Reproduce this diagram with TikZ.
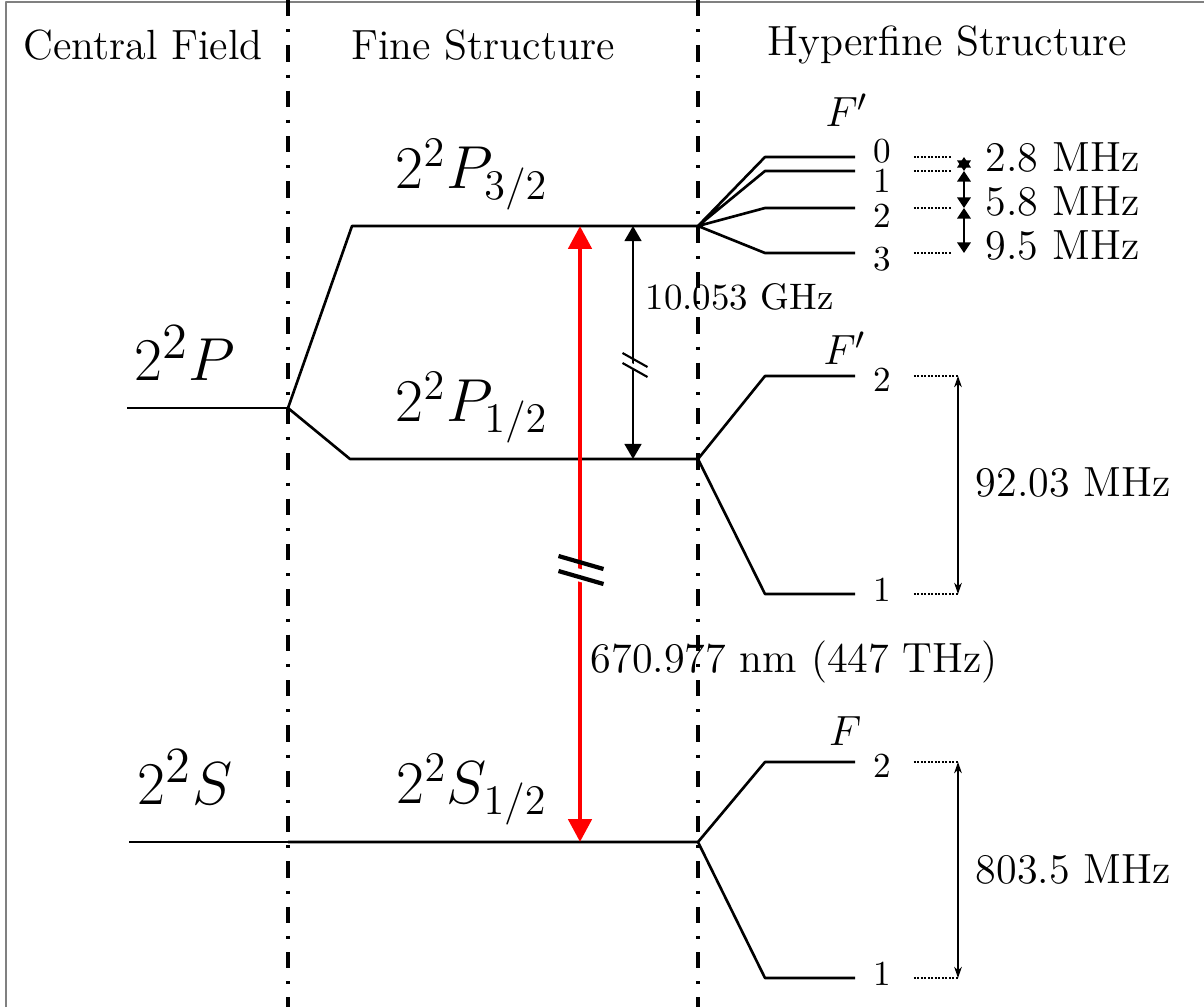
\documentclass[tikz,border=0pt]{standalone}
\usepackage{amsmath,amssymb}
\usepackage{tikz}
\usetikzlibrary{arrows.meta}
\tikzset{
  every picture/.style={line join=round, >=Stealth},
  frameline/.style={line width=0.6pt, gray},
  divline/.style={line width=1.2pt, dash pattern=on 4.6pt off 3.7pt on 0.9pt off 3.7pt},
  lvline/.style={line width=0.75pt},
  dotline/.style={line width=0.5pt, dash pattern=on 0.5pt off 0.5pt},
  hdr/.style={font=\fontsize{12}{14}\selectfont},
  cflabel/.style={font=\fontsize{19}{23}\selectfont},
  lvlabel/.style={font=\fontsize{17.5}{21}\selectfont},
  fnum/.style={font=\fontsize{10}{12}\selectfont},
  flabel/.style={font=\fontsize{13}{15}\selectfont},
  freq/.style={font=\fontsize{12}{14}\selectfont, anchor=west, inner sep=0pt},
  gaparrow/.style={<->, line width=0.6pt, >={Stealth[inset=0pt,length=4.3pt,width=4.8pt]}},
  hfarrow/.style={<->, line width=0.6pt, >={Stealth[inset=0pt,length=3pt,width=3.8pt]}},
  smarrow/.style={<->, line width=0.5pt, >={Stealth[length=3.2pt,width=2.2pt]}},
  redarrow/.style={<->, red, line width=1.4pt, >={Stealth[inset=0pt,length=6.5pt,width=6.5pt]}},
}

\begin{document}
\begin{tikzpicture}
\useasboundingbox (0,0) rectangle (12.04,-10.07);
% frame and dividers
\draw[frameline] (0.06,-10.07)--(0.06,-0.02)--(12.04,-0.02);
\draw[divline] (2.88,0)--(2.88,-10.07);
\draw[divline] (6.98,0)--(6.98,-10.07);
\node[hdr] (hcf) at (1.43,-0.45) {Central Field};
\node[hdr] (hfs) at (4.83,-0.45) {Fine Structure};
\node[hdr] (hhf) at (9.47,-0.45) {Hyperfine Structure};

% central field
\coordinate (cP) at (1.27,-4.08);
\coordinate (sP) at (2.88,-4.08);
\coordinate (cS) at (1.29,-8.42);
\coordinate (sS) at (2.88,-8.42);
\node[cflabel] (lP) at (1.85,-3.53) {$2^2P$};
\node[cflabel] (lS) at (1.85,-7.77) {$2^2S$};
\draw[lvline] (cP)--(sP) (cS)--(sS);

% fine structure
\coordinate (p32a) at (3.52,-2.26);
\coordinate (p32) at (6.98,-2.26);
\coordinate (p12a) at (3.50,-4.59);
\coordinate (p12) at (6.98,-4.59);
\coordinate (s12) at (6.98,-8.42);
\draw[lvline] (sP)--(p32a)--(p32)
(sP)--(p12a)--(p12)
(sS)--(s12);
\node[lvlabel] (lP32) at (4.72,-1.75) {$2^2P_{3/2}$};
\node[lvlabel] (lP12) at (4.72,-4.08) {$2^2P_{1/2}$};
\node[lvlabel] (lS12) at (4.72,-7.90) {$2^2S_{1/2}$};

% D line
\coordinate (ru) at (5.80,-2.26);
\coordinate (rd) at (5.80,-8.42);
\draw[redarrow] (ru)--(rd);
\coordinate (rb) at (5.805,-5.69);
\fill[white] ([shift={(-0.22,0.06)}]rb)--([shift={(0.22,-0.06)}]rb)--([shift={(0.22,-0.19)}]rb)--([shift={(-0.22,-0.07)}]rb)--cycle;
\draw[line width=1.2pt] ([shift={(-0.22,0.13)}]rb)--++(0.45,-0.13)
([shift={(-0.22,-0.02)}]rb)--++(0.45,-0.13);
\node[freq] (dl) at (5.90,-6.62) {670.977 nm (447 THz)};

% fine structure splitting
\coordinate (fu) at (6.33,-2.26);
\coordinate (fd) at (6.33,-4.59);
\draw[gaparrow] (fu)--(fd);
\coordinate (fb) at (6.345,-3.65);
\fill[white] ([shift={(-0.12,0.07)}]fb)--([shift={(0.12,-0.06)}]fb)--([shift={(0.12,-0.12)}]fb)--([shift={(-0.12,0.01)}]fb)--cycle;
\draw[line width=0.6pt] ([shift={(-0.12,0.12)}]fb)--++(0.25,-0.14)
([shift={(-0.12,0.02)}]fb)--++(0.25,-0.14);
\node[freq, font=\fontsize{10.5}{12}\selectfont] (fs) at (6.45,-2.97) {10.053 GHz};

% hyperfine 2P3/2
\coordinate (a0) at (7.65,-1.57); \coordinate (b0) at (8.55,-1.57);
\coordinate (a1) at (7.65,-1.71); \coordinate (b1) at (8.55,-1.71);
\coordinate (a2) at (7.65,-2.08); \coordinate (b2) at (8.55,-2.08);
\coordinate (a3) at (7.65,-2.53); \coordinate (b3) at (8.55,-2.53);
\draw[lvline] (p32)--(a0)--(b0) (p32)--(a1)--(b1) (p32)--(a2)--(b2) (p32)--(a3)--(b3);
\node[flabel] (Fa) at (8.47,-1.10) {$F'$};
\node[fnum] (n0) at (8.82,-1.51) {0};
\node[fnum] (n1) at (8.82,-1.81) {1};
\node[fnum] (n2) at (8.82,-2.16) {2};
\node[fnum] (n3) at (8.82,-2.59) {3};
\coordinate (m0) at (9.64,-1.57);
\coordinate (m1) at (9.64,-1.71);
\coordinate (m2) at (9.64,-2.08);
\coordinate (m3) at (9.64,-2.53);
\foreach \i in {0,1,2,3}
  \draw[dotline, shorten <=3pt, shorten >=0.12cm] (n\i.east |- m\i)--(m\i);
\draw[hfarrow] (m0)--(m1);
\draw[hfarrow] (m1)--(m2);
\draw[hfarrow] (m2)--(m3);
\node[freq] (f28) at (9.85,-1.58) {2.8 MHz};
\node[freq] (f58) at (9.85,-2.02) {5.8 MHz};
\node[freq] (f95) at (9.85,-2.46) {9.5 MHz};

% hyperfine 2P1/2
\coordinate (c2) at (7.65,-3.76); \coordinate (d2) at (8.55,-3.76);
\coordinate (c1) at (7.65,-5.94); \coordinate (d1) at (8.55,-5.94);
\draw[lvline] (p12)--(c2)--(d2) (p12)--(c1)--(d1);
\node[flabel] (Fb) at (8.45,-3.48) {$F'$};
\node[fnum] (k2) at (8.82,-3.80) {2};
\node[fnum] (k1) at (8.82,-5.90) {1};
\coordinate (e2) at (9.58,-3.76);
\coordinate (e1) at (9.58,-5.94);
\draw[dotline, shorten <=3pt] (k2.east |- e2)--(e2);
\draw[dotline, shorten <=3pt] (k1.east |- e1)--(e1);
\draw[smarrow] (e2)--(e1);
\node[freq] (f92) at (9.75,-4.83) {92.03 MHz};

% hyperfine 2S1/2
\coordinate (g2) at (7.65,-7.62); \coordinate (h2) at (8.55,-7.62);
\coordinate (g1) at (7.65,-9.78); \coordinate (h1) at (8.55,-9.78);
\draw[lvline] (s12)--(g2)--(h2) (s12)--(g1)--(h1);
\node[flabel] (Fc) at (8.45,-7.31) {$F$};
\node[fnum] (j2) at (8.82,-7.66) {2};
\node[fnum] (j1) at (8.82,-9.74) {1};
\coordinate (i2) at (9.58,-7.62);
\coordinate (i1) at (9.58,-9.78);
\draw[dotline, shorten <=3pt] (j2.east |- i2)--(i2);
\draw[dotline, shorten <=3pt] (j1.east |- i1)--(i1);
\draw[smarrow] (i2)--(i1);
\node[freq] (f803) at (9.75,-8.70) {803.5 MHz};
\end{tikzpicture}
\end{document}
